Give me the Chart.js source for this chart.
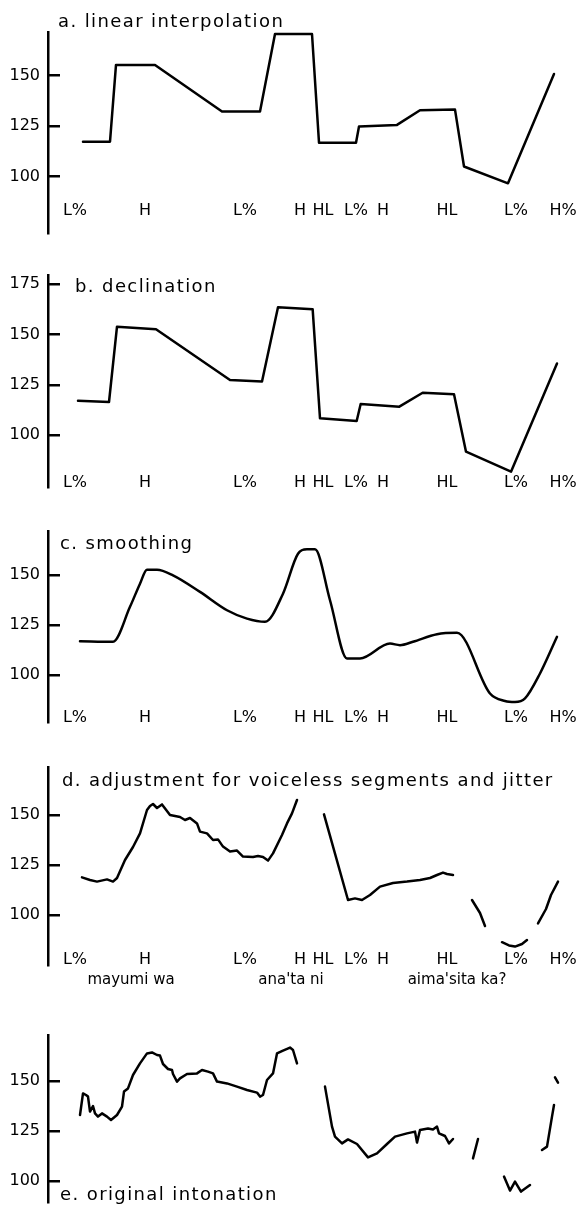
<!DOCTYPE html>
<html><head><meta charset="utf-8">
<script src="https://cdn.jsdelivr.net/npm/chart.js@4/dist/chart.umd.min.js"></script>
<style>
html,body{margin:0;padding:0;background:#fff;width:584px;height:1205px;overflow:hidden;position:relative}
canvas{position:absolute;left:0}
</style></head><body>
<canvas id="pa" width="584" height="253" style="top:0px"></canvas>
<canvas id="pb" width="584" height="252" style="top:255px"></canvas>
<canvas id="pc" width="584" height="231" style="top:511px"></canvas>
<canvas id="pd" width="584" height="253" style="top:747px"></canvas>
<canvas id="pe" width="584" height="200" style="top:1015px"></canvas>
<script>
// ---- labels (time in ms) ----
const toneLabels = ['L%','H','L%','H','HL','L%','H','HL','L%','H%'];
const toneTimes  = [81, 291, 591, 756, 825, 924, 1005, 1197, 1404, 1545];
const wordLabels = ['mayumi wa', "ana'ta ni", "aima'sita ka?"];
const wordTimes  = [249, 729, 1227];
const ticksStd = [100, 125, 150];
const ticksB   = [100, 125, 150, 175];

// ---- a. linear interpolation ----
const aTime = [105,186,204,321,522,636,681,792,813,924,933,1047,1116,1221,1248,1380,1518];
const aHz   = [117.3,117.3,155.3,155.3,132.2,132.2,170.6,170.6,116.8,116.8,124.8,125.6,132.9,133.2,105,96.7,150.8];

// ---- b. declination ----
const bTime = [90,183,207,324,546,642,690,794,816,926,938,1054,1124,1218,1254,1389,1527];
const bHz   = [117.1,116.5,153.8,152.5,127.4,126.7,163.4,162.4,108.4,107.1,115.5,114.2,121.1,120.3,91.9,82,135.6];

// ---- c. smoothing ----
const cTime = [96,195,246,276,297,327,375,456,537,597,651,705,750,777,801,846,897,936,1026,1056,1095,1167,1227,1326,1371,1401,1431,1476,1527];
const cHz   = [117,116.7,134.2,145.8,152.8,152.8,150,141.7,132.5,128.3,126.7,140.8,160.8,163,163,137.5,108.3,108.3,115.8,115,116.7,120.5,121.2,90.8,87,86.5,88.3,100.8,119.2];

// ---- d. adjustment for voiceless segments and jitter (null = voiceless gap) ----
const dTime = [102,126,147,177,195,207,231,255,276,297,306,315,327,342,366,381,396,411,426,447,456,477,495,510,525,546,567,585,615,630,645,660,675,702,717,732,747,
  790,
  828,900,921,942,966,996,1035,1077,1116,1146,1167,1185,1197,1215,
  1240,
  1272,1296,1311,
  1340,
  1362,1383,1401,1422,1437,
  1455,
  1470,1494,1509,1530];
const dHz = [118.8,117.5,116.7,117.8,116.7,118.5,127.5,134,140.8,152.5,154.5,155.5,153.5,155.3,150,149.5,149,147.5,148.5,145.8,141.7,140.8,137.5,137.8,134.2,131.7,132.2,129.2,129,129.5,129,127.2,130.8,140,145.8,150.8,157.5,
  null,
  150.3,107.5,108.3,107.5,110,114.2,116,116.7,117.5,118.5,120,121.2,120.5,120,
  null,
  107.5,101,94.5,
  null,
  86.4,84.8,84.2,85.5,87.5,
  null,
  95.8,103,110,116.7];

// ---- e. original intonation ----
const eTime = [96,105,114,120,126,135,141,150,162,177,189,207,222,228,240,255,276,297,312,327,336,345,360,372,375,387,396,417,447,462,480,495,507,537,567,597,627,636,645,657,675,687,705,726,735,747,
  790,
  831,852,861,882,900,927,960,987,1017,1041,1077,1101,1107,1116,1140,1155,1167,1173,1191,1203,1215,
  1245,
  1275,1290,
  1330,
  1368,1386,1401,1419,1446,
  1465,
  1482,1497,1512,1518,
  1519,
  1521,1530];
const eHz = [133,143.8,143,142.2,134.7,137.5,133.8,132.2,133.8,132.2,130.5,133,137.2,144.7,146.3,153,158.8,163.8,164.3,163,162.7,158.5,156,155.5,153.5,149.7,151.3,153.5,153.8,155.5,154.7,153.8,149.7,148.8,147.2,145.5,144.2,142.2,143,150.5,153.8,163.8,165.2,166.7,165.5,158.8,
  null,
  147.2,127.2,122.2,118.8,120.8,118.5,111.8,113.8,118.5,122.2,123.8,124.7,119.2,125.5,126.3,125.8,127.2,123.8,122.5,118.8,121,
  null,
  111.3,121,
  null,
  102.2,95.2,99.7,94.7,98,
  null,
  115.5,117.2,132.2,138,
  null,
  151.8,149.2];

const FONT = "'DejaVu Sans', sans-serif";
Chart.defaults.font.family = FONT;
Chart.defaults.color = '#000';

const panels = [
  {id:'pa', time:aTime, hz:aHz, ticks:ticksStd, yMin:72.1, yMax:171.6, padTop:32, padBottom:20,
   title:'a. linear interpolation', titleDx:10, titleY:{from:'top', d:-5}, toneDy:22, smooth:false, words:false},
  {id:'pb', time:bTime, hz:bHz, ticks:ticksB, yMin:74.4, yMax:179.4, padTop:20, padBottom:20,
   title:'b. declination', titleDx:27, titleY:{from:'top', d:17}, toneDy:4, smooth:false, words:false},
  {id:'pc', time:cTime, hz:cHz, ticks:ticksStd, yMin:76.5, yMax:172.2, padTop:20, padBottom:20,
   title:'c. smoothing', titleDx:12, titleY:{from:'top', d:18}, toneDy:4, smooth:true, words:false},
  {id:'pd', time:dTime, hz:dHz, ticks:ticksStd, yMin:75, yMax:174, padTop:20, padBottom:35,
   title:'d. adjustment for voiceless segments and jitter', titleDx:14, titleY:{from:'top', d:19}, toneDy:5, smooth:false, words:true},
  {id:'pe', time:eTime, hz:eHz, ticks:ticksStd, yMin:89.5, yMax:173, padTop:20, padBottom:13,
   title:'e. original intonation', titleDx:12, titleY:{from:'bottom', d:-2}, toneDy:null, smooth:false, words:false}
];

function makeChart(p){
  const textPlugin = {
    id:'panelText',
    afterDraw(chart){
      const ctx = chart.ctx, ca = chart.chartArea, xs = chart.scales.x;
      ctx.save();
      ctx.fillStyle = '#000';
      // title
      ctx.font = '18px ' + FONT;
      if ('letterSpacing' in ctx) ctx.letterSpacing = '1.4px';
      ctx.textAlign = 'left'; ctx.textBaseline = 'alphabetic';
      const ty = p.titleY.from === 'top' ? ca.top + p.titleY.d : ca.bottom + p.titleY.d;
      ctx.fillText(p.title, ca.left + p.titleDx, ty);
      if ('letterSpacing' in ctx) ctx.letterSpacing = '0px';
      // tone labels
      if (p.toneDy !== null){
        ctx.font = '16px ' + FONT;
        ctx.textAlign = 'center'; ctx.textBaseline = 'middle';
        toneLabels.forEach((lab,i)=>{
          ctx.fillText(lab, xs.getPixelForValue(toneTimes[i]), ca.bottom - p.toneDy);
        });
      }
      if (p.words){
        ctx.font = '15px ' + FONT;
        ctx.textAlign = 'center'; ctx.textBaseline = 'middle';
        wordLabels.forEach((w,i)=>{
          ctx.fillText(w, xs.getPixelForValue(wordTimes[i]), ca.bottom + 15);
        });
      }
      ctx.restore();
    }
  };
  return new Chart(document.getElementById(p.id), {
    type:'line',
    data:{datasets:[{
      data: p.time.map((t,i)=>({x:t, y:p.hz[i]})),
      borderColor:'#000', borderWidth:2.5, pointRadius:0, fill:false, spanGaps:false,
      tension:0, cubicInterpolationMode: p.smooth ? 'monotone' : 'default',
      borderJoinStyle:'round', borderCapStyle:'round'
    }]},
    options:{
      responsive:false, animation:false, devicePixelRatio:1,
      layout:{padding:{left:0, right:6, top:p.padTop, bottom:p.padBottom}},
      plugins:{legend:{display:false}, tooltip:{enabled:false}, title:{display:false}},
      scales:{
        x:{type:'linear', display:false, min:0, max:1590},
        y:{type:'linear', position:'left', min:p.yMin, max:p.yMax,
           afterBuildTicks: s => { s.ticks = p.ticks.map(v=>({value:v})); },
           afterFit: s => { s.width = 48; s.paddingTop = 0; s.paddingBottom = 0; },
           grid:{drawOnChartArea:false, drawTicks:true, tickLength:-12, color:'#000', lineWidth:2.5},
           border:{display:true, color:'#000', width:2.5},
           ticks:{padding:20, color:'#000', font:{size:16, family:FONT}, callback: v => String(v)}
        }
      }
    },
    plugins:[textPlugin]
  });
}
panels.forEach(makeChart);
</script>
</body></html>
